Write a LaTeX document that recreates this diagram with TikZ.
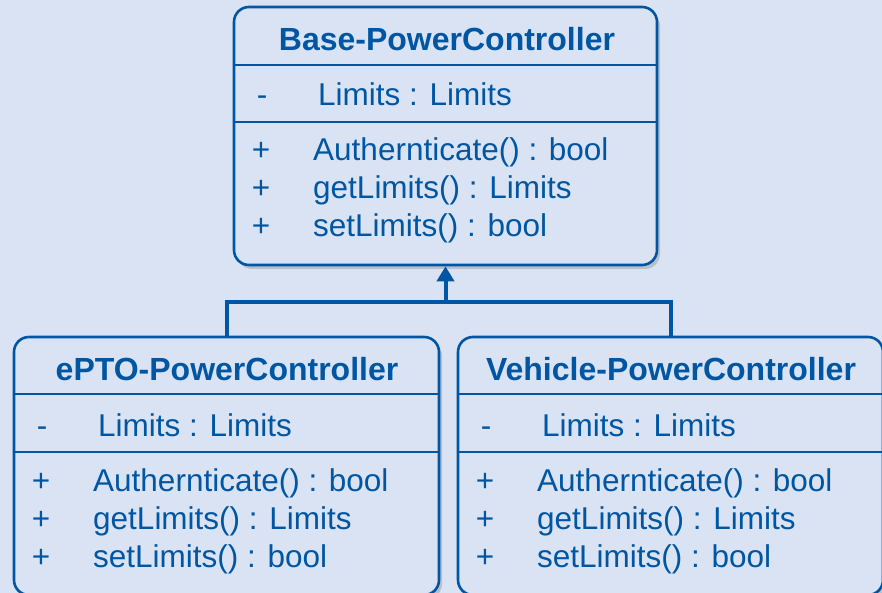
\documentclass[tikz,border=0pt]{standalone}
\usepackage{fontspec}
\setmainfont{Liberation Sans}
\usetikzlibrary{shadows,arrows.meta}
\definecolor{bgblue}{HTML}{DAE3F3}
\definecolor{umlblue}{RGB}{0,86,163}
\tikzset{
  classbox/.style={draw=umlblue, line width=2.6pt, rounded corners=15pt, fill=bgblue,
    minimum width=#1, minimum height=258pt, inner sep=0pt,
    drop shadow={opacity=0.35, shadow xshift=3pt, shadow yshift=-4pt}},
  sepline/.style={draw=umlblue, line width=2.6pt},
  conn/.style={draw=umlblue, line width=4pt},
  title/.style={anchor=base, text=umlblue, font=\bfseries\fontsize{32}{36}\selectfont, inner sep=0pt},
  member/.style={anchor=base west, text=umlblue, font=\fontsize{31.5}{36}\selectfont, inner sep=0pt},
  vis/.style={anchor=base, text=umlblue, font=\fontsize{31.5}{36}\selectfont, inner sep=0pt},
}
\begin{document}
\begin{tikzpicture}[x=1pt,y=-1pt]
\useasboundingbox[fill=bgblue] (0,0) rectangle (882,593);

% boxes
\node[classbox=423pt] (base) at (445.5,136) {};
\node[classbox=425pt] (epto) at (226.5,466) {};
\node[classbox=425pt] (veh) at (670.5,466) {};

% connectors
\coordinate (j) at (446,302);
\draw[conn] (epto.north) -- (epto.north |- j) -- (veh.north |- j) -- (veh.north);
\draw[conn, -{Triangle[length=15pt,width=17pt]}] (base.south |- j) -- (base.south);

% ---- Base box
\node[title] (bt) at (447,51) {Base-PowerController};
\draw[sepline] (base.west |- 0,65) -- (base.east |- 0,65);
\draw[sepline] (base.west |- 0,122) -- (base.east |- 0,122);
\node[vis] (bv1) at (262,106) {-};
\node[member] (ba1) at (318,106) {Limits : Limits};
\node[vis] (bv2) at (261,161) {+};
\node[member] (bm1) at (313,161) {Authernticate() : bool};
\node[vis] (bv3) at (261,199) {+};
\node[member] (bm2) at (313,199) {getLimits() : Limits};
\node[vis] (bv4) at (261,237) {+};
\node[member] (bm3) at (313,237) {setLimits() : bool};

% ---- ePTO box
\node[title] (et) at (227,380) {ePTO-PowerController};
\draw[sepline] (epto.west |- 0,394) -- (epto.east |- 0,394);
\draw[sepline] (epto.west |- 0,452) -- (epto.east |- 0,452);
\node[vis] (ev1) at (42,436) {-};
\node[member] (ea1) at (98,436) {Limits : Limits};
\node[vis] (ev2) at (41,491) {+};
\node[member] (em1) at (93,491) {Authernticate() : bool};
\node[vis] (ev3) at (41,529) {+};
\node[member] (em2) at (93,529) {getLimits() : Limits};
\node[vis] (ev4) at (41,567) {+};
\node[member] (em3) at (93,567) {setLimits() : bool};

% ---- Vehicle box
\node[title] (vt) at (671,380) {Vehicle-PowerController};
\draw[sepline] (veh.west |- 0,394) -- (veh.east |- 0,394);
\draw[sepline] (veh.west |- 0,452) -- (veh.east |- 0,452);
\node[vis] (vv1) at (486,436) {-};
\node[member] (va1) at (542,436) {Limits : Limits};
\node[vis] (vv2) at (485,491) {+};
\node[member] (vm1) at (537,491) {Authernticate() : bool};
\node[vis] (vv3) at (485,529) {+};
\node[member] (vm2) at (537,529) {getLimits() : Limits};
\node[vis] (vv4) at (485,567) {+};
\node[member] (vm3) at (537,567) {setLimits() : bool};
\end{tikzpicture}
\end{document}
